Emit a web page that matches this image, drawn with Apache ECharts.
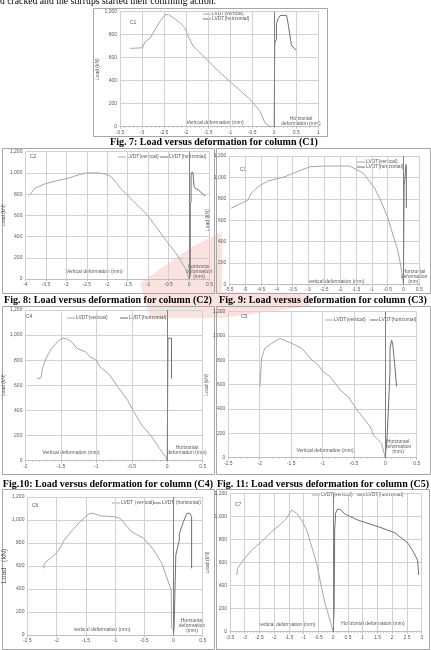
<!DOCTYPE html>
<html><head><meta charset="utf-8">
<script src="https://cdn.jsdelivr.net/npm/echarts@6/dist/echarts.min.js"></script>
<style>html,body{margin:0;padding:0;background:#fff;overflow:hidden}#main{width:431px;height:650px}</style>
</head><body><div id="main"></div>
<script>
// ---- data (x = deformation mm, y = load kN) ----
const c1Vertical = [[-3.27,681],[-3.05,685],[-2.99,686],[-2.93,739],[-2.82,768],[-2.71,841],[-2.59,917],[-2.48,971],[-2.40,977],[-2.29,948],[-2.14,904],[-2.03,861],[-1.97,803],[-1.84,701],[-1.57,600],[-1.27,484],[-0.93,368],[-0.55,238],[-0.32,134],[-0.21,33],[-0.10,4],[0,0]];
const c1Horizontal = [[0,0],[0.01,700],[0.02,739],[0.05,760],[0.05,898],[0.09,940],[0.13,965],[0.2,968],[0.28,968],[0.32,884],[0.39,710],[0.45,681],[0.5,667]];
const c2Vertical = [[-3.9,790],[-3.77,854],[-3.53,896],[-3.25,925],[-2.96,950],[-2.7,982],[-2.5,1000],[-2.2,1000],[-2.05,990],[-1.91,967],[-1.67,855],[-1.35,729],[-1.02,604],[-0.78,478],[-0.54,352],[-0.29,226],[-0.09,101],[0,0]];
const c2Horizontal = [[0,0],[0.03,30],[0.03,710],[0.05,730],[0.05,990],[0.08,1010],[0.1,990],[0.12,880],[0.15,855],[0.23,839],[0.35,795],[0.4,788]];
const c3Vertical = [[-5.45,711],[-4.91,788],[-4.81,851],[-4.59,913],[-4.28,966],[-3.75,1006],[-3.3,1060],[-2.95,1100],[-2.5,1106],[-1.7,1106],[-1.27,1040],[-0.91,898],[-0.70,772],[-0.49,617],[-0.33,461],[-0.17,305],[-0.09,180],[-0.04,87],[0,0]];
const c3Horizontal = [[0,0],[0.01,500],[0.02,930],[0.04,960],[0.06,1050],[0.08,1120],[0.09,1100],[0.09,713]];
const c4Vertical = [[-1.84,655],[-1.78,660],[-1.76,735],[-1.70,827],[-1.63,894],[-1.54,952],[-1.48,974],[-1.43,974],[-1.36,952],[-1.27,894],[-1.15,867],[-1.09,827],[-1.0,801],[-0.95,748],[-0.81,682],[-0.70,589],[-0.56,483],[-0.47,390],[-0.36,284],[-0.22,191],[-0.11,99],[-0.01,19],[0,0]];
const c4Horizontal = [[0,0],[0.01,975],[0.06,975],[0.06,655]];
const c5Vertical = [[-1.995,584],[-1.97,817],[-1.92,899],[-1.81,940],[-1.68,980],[-1.49,940],[-1.33,899],[-1.17,803],[-1.07,762],[-0.99,707],[-0.88,666],[-0.72,556],[-0.59,501],[-0.43,378],[-0.24,255],[-0.19,187],[-0.11,145],[-0.06,118],[0,0]];
const c5Horizontal = [[0,0],[0.03,187],[0.047,378],[0.075,707],[0.075,899],[0.1,967],[0.1,980],[0.12,926],[0.15,762],[0.18,584]];
const c6Vertical = [[-2.22,580],[-2.21,623],[-2.04,696],[-1.98,725],[-1.87,826],[-1.68,942],[-1.52,1023],[-1.43,1058],[-1.38,1058],[-1.24,1035],[-1.02,1029],[-0.91,1014],[-0.72,899],[-0.51,841],[-0.34,739],[-0.2,623],[-0.1,478],[-0.04,391],[-0.03,58],[0,40],[0,0]];
const c6Horizontal = [[0,0],[0.01,62],[0.04,696],[0.06,710],[0.1,826],[0.1,879],[0.13,890],[0.17,985],[0.2,1000],[0.23,1058],[0.28,1058],[0.31,1029],[0.31,580]];
const c7Vertical = [[-3.27,491],[-3.24,549],[-3.05,621],[-2.76,708],[-2.43,780],[-2.09,867],[-1.75,940],[-1.58,983],[-1.41,1055],[-1.35,1062],[-1.24,1027],[-1.07,968],[-0.9,882],[-0.73,737],[-0.56,593],[-0.45,448],[-0.28,246],[-0.16,145],[-0.05,43],[0,0]];
const c7Horizontal = [[0,0],[0.03,188],[0.05,883],[0.08,1027],[0.14,1061],[0.23,1061],[0.4,1020],[0.85,966],[1.53,910],[2.09,858],[2.54,766],[2.71,694],[2.86,621],[2.9,607],[2.9,491]];

const xRanges = [[-3.5,1],[-4,0.5],[-5.5,0.5],[-2,0.5],[-2.5,0.5],[-2.5,0.5],[-3.5,3]];
const yMax = [1000,1200,1200,1200,1200,1200,1200];
const panelNames = ['C1','C2','C3','C4','C5','C6','C7'];
const captions = ['Fig. 7: Load versus deformation for column (C1)','Fig. 8: Load versus deformation for column (C2)','Fig. 9: Load versus deformation for column (C3)','Fig.10: Load versus deformation for column (C4)','Fig. 11: Load versus deformation for column (C5)'];
const legendNames = [['LVDT(vertical)','LVDT(horizontal)'],['LVDT(vertical)','LVDT(horizontal)'],['LVDT(vertical)','LVDT(horizontal)'],['LVDT(vertical)','LVDT(horizontal)'],['LVDT(vertical)','LVDT(horizontal)'],['LVDT (vertical)','LVDT (horizontal)'],['LVDT(vertical)','LVDT(horizontal)']];
const yNames = ['Load (kN)','Load (kN)','Load (kN)','Load (kN)','Load (kN)','Load   (kN)','Load (kN)'];
const xNames = ['Vertical deformation (mm)','Vertical deformation (mm)','vertical deformation (mm)','Vertical deformation (mm)','Vertical deformation (mm)','vertical deformation (mm)','vertical deformation (mm)'];
const hNames = ['Horizontal\ndeformation (mm)','horizontal\ndeformation\n(mm)','Horizontal\ndeformation\n(mm)','Horizontal\ndeformation (mm)','Horizontal\ndeformation\n(mm)','Horizontal\ndeformation\n(mm)','Horizontal deformation (mm)'];
const verticalSeries = [c1Vertical,c2Vertical,c3Vertical,c4Vertical,c5Vertical,c6Vertical,c7Vertical];
const horizontalSeries = [c1Horizontal,c2Horizontal,c3Horizontal,c4Horizontal,c5Horizontal,c6Horizontal,c7Horizontal];

// ---- layout (pixels) ----
const grids = [
  {left:120,top:11.7,width:198.3,height:115},
  {left:24,top:151.7,width:185.5,height:127.3},
  {left:229.3,top:156,width:190,height:128.3},
  {left:20,top:310,width:182.7,height:150.7},
  {left:228.3,top:311.7,width:188.4,height:146},
  {left:20,top:497,width:182.7,height:138},
  {left:230,top:493.3,width:191.7,height:138.4}
];
const boxes = [[93,8,234,128],[2,148,212,145],[216,148,214,145],[2,306,212,168],[216,306,214,168],[2,489,212,160],[216,489,213,160]];
const captionPos = [[214,142],[108,300],[323,300],[108,484],[323,484]];
const panelLabelPos = [[130,23],[30,157],[240,170],[26,317],[241,317],[32,506],[235,505]];
const legendPos = [ // [x line1,y1,x line2,y2]
  [203,14,203,19],[118,157,160,157],[357,162,357,167],[67,318,120,318],[325,320,370,320],[112,503,153,503],[312,495,357,495]];
const yNameGap = [-8,17,-10,-4,-10,-7,-7];
const xNamePos = [[215,123],[94,272],[336,282],[71,453],[325,451],[102,630],[287,625]];
const hNamePos = [[301,121],[199,272],[414,277],[187,450],[398,447],[192,626],[373,624]];

const FONT = 'Liberation Sans';
const txtColor = '#595959';
const vColor = '#a6a6a6', hColor = '#6f6f6f';
const gridColor = '#d0d0d0';

const option = {animation:false, grid:[], xAxis:[], yAxis:[], series:[], graphic:[]};
const g = option.graphic;

// watermark
g.push({type:'polygon', z:-10, shape:{points:[[140,283],[193,246],[222,232],[222,292],[310,293],[310,306],[222,318],[150,318]]}, style:{fill:'#f8d3cf', opacity:0.65}});

// top text line
g.push({type:'text', left:0, top:-4, style:{text:'d cracked and the stirrups started their confining action.', font:'9.7px "Liberation Serif"', fill:'#000'}});

for (let i=0;i<7;i++){
  option.grid.push(Object.assign({containLabel:false}, grids[i]));
  option.xAxis.push({gridIndex:i,type:'value',min:xRanges[i][0],max:xRanges[i][1],interval:0.5,
    axisLine:{show:true,onZero:true,lineStyle:{color:'#bfbfbf',width:1}},
    axisTick:{show:true,length:2,lineStyle:{color:'#bfbfbf'}},
    minorTick:{show:true,splitNumber:5,length:1,lineStyle:{color:'#bfbfbf'}},
    axisLabel:{fontSize:5,color:txtColor,margin:3,fontFamily:FONT},
    splitLine:{show:true,lineStyle:{color:gridColor,width:1}}});
  option.yAxis.push({gridIndex:i,type:'value',min:0,max:yMax[i],interval:200,
    name:yNames[i],nameLocation:'middle',nameRotate:90,nameGap:yNameGap[i],
    nameTextStyle:{fontSize:i===5?7:5,color:txtColor,fontFamily:FONT},
    axisLine:{show:false},axisTick:{show:false},
    axisLabel:{fontSize:5,color:txtColor,margin:3,fontFamily:FONT},
    splitLine:{show:true,lineStyle:{color:gridColor,width:1}}});
  option.series.push({type:'line',name:legendNames[i][0],xAxisIndex:i,yAxisIndex:i,data:verticalSeries[i],
    showSymbol:false,lineStyle:{color:vColor,width:1},itemStyle:{color:vColor},
    markLine:{silent:true,symbol:'none',label:{show:false},lineStyle:{color:'#808080',width:1,type:'solid'},data:[{xAxis:0}]}});
  option.series.push({type:'line',name:legendNames[i][1],xAxisIndex:i,yAxisIndex:i,data:horizontalSeries[i],
    showSymbol:false,lineStyle:{color:hColor,width:1},itemStyle:{color:hColor}});
  const b = boxes[i];
  g.push({type:'rect',z:-5,shape:{x:b[0]+0.5,y:b[1]+0.5,width:b[2],height:b[3]},style:{fill:'none',stroke:'#a6a6a6',lineWidth:1}});
  g.push({type:'text',x:panelLabelPos[i][0],y:panelLabelPos[i][1],style:{text:panelNames[i],font:'5px '+FONT,fill:txtColor,textVerticalAlign:'middle'}});
  const L = legendPos[i];
  [[L[0],L[1],vColor,legendNames[i][0]],[L[2],L[3],hColor,legendNames[i][1]]].forEach(e=>{
    g.push({type:'line',shape:{x1:e[0],y1:e[1],x2:e[0]+8,y2:e[1]},style:{stroke:e[2],lineWidth:1}});
    g.push({type:'text',x:e[0]+9,y:e[1],style:{text:e[3],font:'5px '+FONT,fill:txtColor,textVerticalAlign:'middle'}});
  });
  g.push({type:'text',x:xNamePos[i][0],y:xNamePos[i][1],style:{text:xNames[i],font:'5px '+FONT,fill:txtColor,textAlign:'center',textVerticalAlign:'middle'}});
  g.push({type:'text',x:hNamePos[i][0],y:hNamePos[i][1],style:{text:hNames[i],font:'5px '+FONT,fill:txtColor,textAlign:'center',textVerticalAlign:'middle',lineHeight:5}});
}
captions.forEach((c,i)=>{
  g.push({type:'text',x:captionPos[i][0],y:captionPos[i][1],style:{text:c,font:'bold 10px "Liberation Serif"',fill:'#000',textAlign:'center',textVerticalAlign:'middle'}});
});

const chart = echarts.init(document.getElementById('main'),null,{renderer:'canvas'});
chart.setOption(option);
</script></body></html>
